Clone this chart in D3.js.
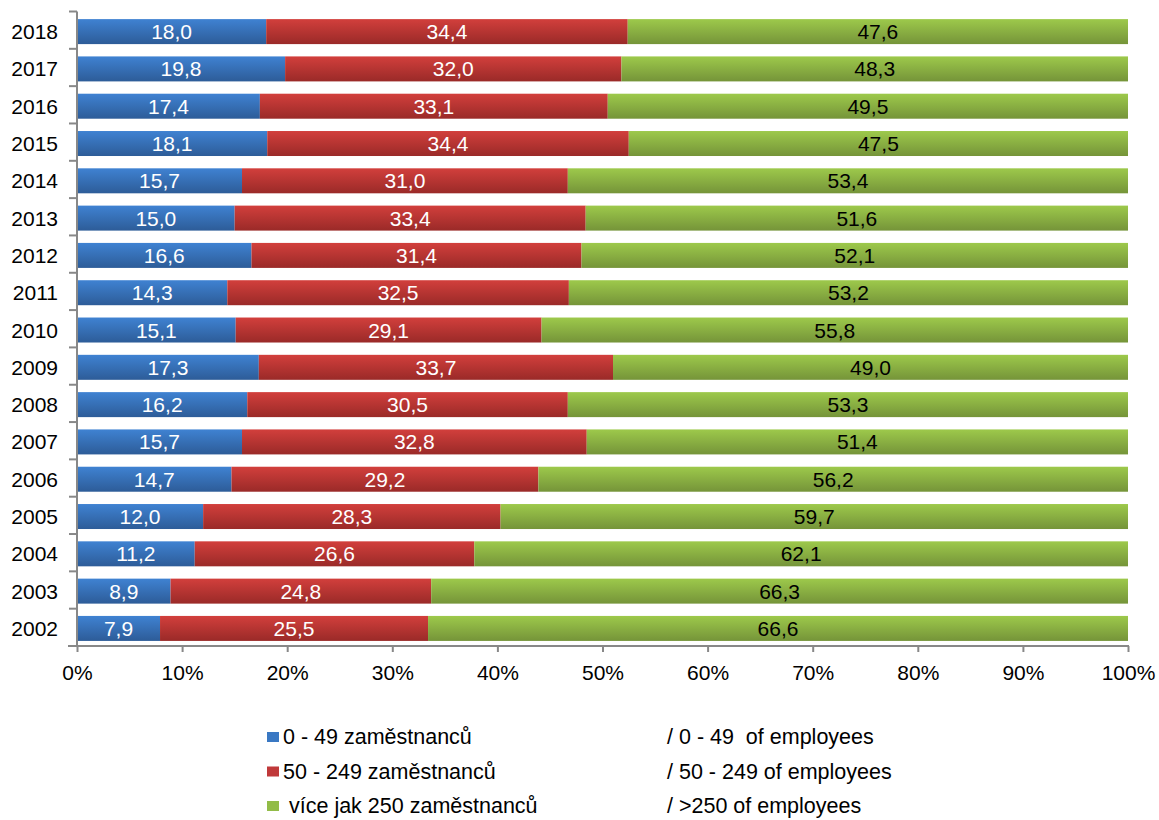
<html>
<head>
<meta charset="utf-8">
<script src="https://d3js.org/d3.v7.min.js"></script>
<style>
  body { margin: 0; background: #fff; }
  text { font-family: "Liberation Sans", Arial, sans-serif; }
</style>
</head>
<body>
<div id="chart"></div>
<script>
var years = ["2018","2017","2016","2015","2014","2013","2012","2011","2010","2009","2008","2007","2006","2005","2004","2003","2002"];
var small = [18.0,19.8,17.4,18.1,15.7,15.0,16.6,14.3,15.1,17.3,16.2,15.7,14.7,12.0,11.2,8.9,7.9];
var medium = [34.4,32.0,33.1,34.4,31.0,33.4,31.4,32.5,29.1,33.7,30.5,32.8,29.2,28.3,26.6,24.8,25.5];
var large = [47.6,48.3,49.5,47.5,53.4,51.6,52.1,53.2,55.8,49.0,53.3,51.4,56.2,59.7,62.1,66.3,66.6];
var xTicks = [0,10,20,30,40,50,60,70,80,90,100];
var legendCz = ["0 - 49 zaměstnanců", "50 - 249 zaměstnanců", " více jak 250 zaměstnanců"];
var legendEn = ["/ 0 - 49  of employees", "/ 50 - 249 of employees", "/ >250 of employees"];

var W = 1159, H = 820;
var svg = d3.select("#chart").append("svg").attr("width", W).attr("height", H);

var defs = svg.append("defs");
var grads = [["gb", "#3f82d2", "#2d5c98"], ["gr", "#d23f3c", "#9a2a28"], ["gg", "#9dc94b", "#759439"]];
grads.forEach(function(g) {
  var lg = defs.append("linearGradient").attr("id", g[0]).attr("x1", 0).attr("y1", 0).attr("x2", 0).attr("y2", 1);
  lg.append("stop").attr("offset", "0%").attr("stop-color", g[1]);
  lg.append("stop").attr("offset", "100%").attr("stop-color", g[2]);
});

var x = d3.scaleLinear().domain([0, 100]).range([77, 1128]);
var y = d3.scaleBand().domain(years).range([11.5, 646]).paddingInner(0.33).paddingOuter(0.17).align(0.6);

var series = [small, medium, large];
var fills = ["url(#gb)", "url(#gr)", "url(#gg)"];
var labelCol = ["#fff", "#fff", "#000"];
var fmt = function(v) { return d3.format(".1f")(v).replace(".", ","); };
var fs = 21;

years.forEach(function(yr, i) {
  var acc = 0;
  series.forEach(function(s, k) {
    var v = s[i];
    var x0 = acc, x1 = (k == 2) ? 100 : acc + v;
    svg.append("rect")
      .attr("x", x(x0)).attr("y", y(yr))
      .attr("width", x(x1) - x(x0)).attr("height", y.bandwidth())
      .attr("fill", fills[k]);
    svg.append("text")
      .attr("x", (x(x0) + x(x1)) / 2).attr("y", y(yr) + y.bandwidth() / 2 + 7.5)
      .attr("text-anchor", "middle").attr("font-size", fs).attr("fill", labelCol[k])
      .text(fmt(v));
    acc += v;
  });
});

// axes
var axisCol = "#888";
var gx = svg.append("g").attr("transform", "translate(0,646)")
  .call(d3.axisBottom(x).tickValues(xTicks).tickSize(6).tickSizeOuter(0).tickFormat(function(d) { return d + "%"; }));
gx.select(".domain").attr("stroke", axisCol).attr("stroke-width", 2).attr("d", "M68,0H1129");
gx.selectAll(".tick line").attr("stroke", axisCol).attr("stroke-width", 2);
gx.selectAll(".tick text").attr("font-size", fs).attr("fill", "#000")
  .attr("font-family", "'Liberation Sans', Arial, sans-serif").attr("dy", null).attr("y", 34);

var yEdge = d3.scaleLinear().domain([0, years.length]).range([11.5, 646]);
var gy = svg.append("g");
gy.append("line").attr("x1", 77).attr("x2", 77).attr("y1", yEdge(0)).attr("y2", yEdge(years.length)).attr("stroke", axisCol).attr("stroke-width", 2);
d3.range(years.length).forEach(function(i) {
  gy.append("line").attr("x1", 69).attr("x2", 77).attr("y1", yEdge(i)).attr("y2", yEdge(i)).attr("stroke", axisCol).attr("stroke-width", 2);
});
years.forEach(function(yr) {
  gy.append("text").attr("x", 58).attr("y", y(yr) + y.bandwidth() / 2 + 7.5)
    .attr("text-anchor", "end").attr("font-size", fs).attr("fill", "#000").text(yr);
});

// legend
var legCol = ["#3a78c3", "#c0393a", "#92bc48"];
legendCz.forEach(function(t, i) {
  var ly = 744 + i * 34.5;
  svg.append("rect").attr("x", 267).attr("y", ly - 12).attr("width", 12).attr("height", 10).attr("fill", legCol[i]);
  svg.append("text").attr("x", 283).attr("y", ly).attr("font-size", 21.5).attr("fill", "#000")
    .style("white-space", "pre").text(t);
  svg.append("text").attr("x", 667).attr("y", ly).attr("font-size", 21.5).attr("fill", "#000")
    .style("white-space", "pre").text(legendEn[i]);
});
</script>
</body>
</html>
